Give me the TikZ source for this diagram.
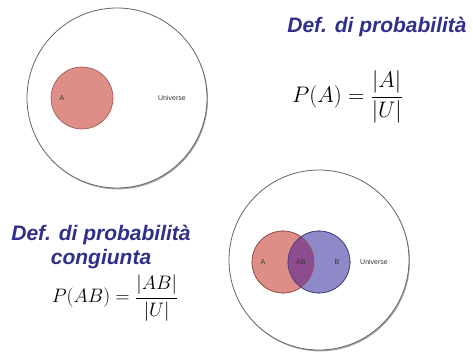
\RequirePackage{fix-cm}
\documentclass[tikz,border=0pt]{standalone}
\usepackage{xcolor}
\usepackage{fontspec}
\usepackage{tikz}
\usetikzlibrary{shadows}

\newfontfamily\titlefont{Liberation Sans}
\newfontfamily\labelfont{Liberation Sans}

\definecolor{titleblue}{RGB}{48,48,140}
\definecolor{setAfill}{RGB}{222,142,134}
\definecolor{setAline}{RGB}{150,82,78}
\definecolor{setBfill}{RGB}{142,138,202}
\definecolor{setBline}{RGB}{72,68,122}
\definecolor{overlap}{RGB}{140,76,142}

\begin{document}
\begin{tikzpicture}[x=1pt, y=-1pt,
    universe/.style={circle, draw=black!60, fill=white, line width=0.8pt,
                     minimum size=180pt, inner sep=0pt,
                     drop shadow={shadow xshift=1pt, shadow yshift=-1.4pt, fill=black!50, opacity=0.7}},
    setA/.style={circle, draw=setAline, fill=setAfill, line width=0.6pt,
                 minimum size=62pt, inner sep=0pt},
    setB/.style={circle, draw=setBline, fill=setBfill, line width=0.6pt,
                 minimum size=62pt, inner sep=0pt},
    setlabel/.style={font=\labelfont\fontsize{7}{8}\selectfont, text=black!80, inner sep=0pt},
    heading/.style={font=\titlefont\bfseries\itshape\fontsize{21}{24}\selectfont,
                    text=titleblue, inner sep=0pt, anchor=base},
    formula/.style={font=\fontsize{22.5}{26}\selectfont, inner sep=0pt}
]
\useasboundingbox (0,0) rectangle (473,352);

\node[universe] (U1) at (117,98) {};
\node[setA] (A1) at (82,98) {};
\node[setlabel] (a1) at (62,98) {A};
\node[setlabel] (u1) at (172,98) {Universe};

\node[heading] (T1) at (377,33) {Def. di probabilità};
\node[formula] (F1) at (347.5,97) {$\displaystyle P(A)=\frac{|A|}{|U|}$};

\node[heading] (T2) at (101,241) {Def. di probabilità};
\node[heading] (T3) at (101,265) {congiunta};
\node[formula, font=\fontsize{19.5}{24}\selectfont] (F2) at (115,298) {$\displaystyle P(AB)=\frac{|AB|}{|U|}$};

\node[universe] (U2) at (319,260) {};
\node[setA] (A2) at (283,262) {};
\node[setB] (B2) at (319,262) {};
\begin{scope}
    \clip (A2.center) circle[radius=31pt];
    \fill[overlap] (B2.center) circle[radius=31pt];
\end{scope}
\draw[setAline, line width=0.6pt] (A2.center) circle[radius=31pt];
\draw[setBline, line width=0.6pt] (B2.center) circle[radius=31pt];
\node[setlabel] (a2) at (263,262) {A};
\node[setlabel] (ab2) at (301,262) {AB};
\node[setlabel] (b2) at (337,262) {B};
\node[setlabel] (u2) at (374,262) {Universe};

\end{tikzpicture}
\end{document}
